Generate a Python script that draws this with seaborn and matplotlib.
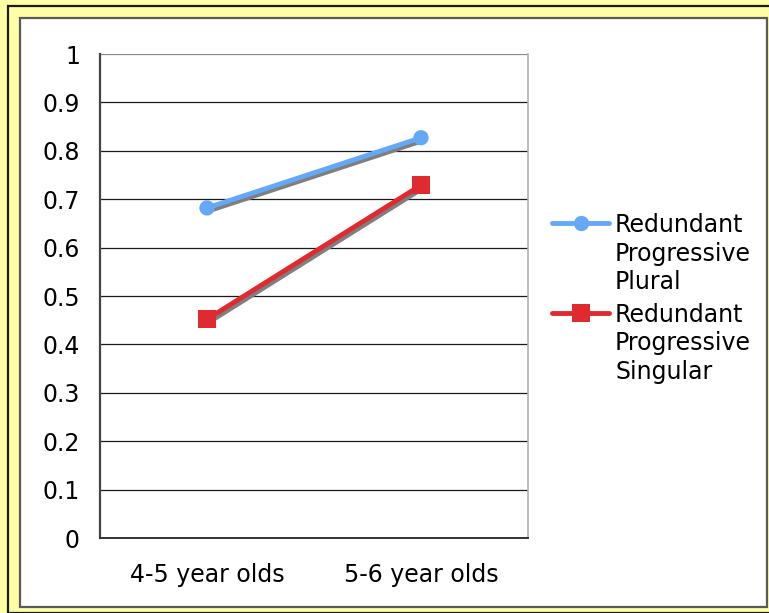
import numpy as np
import pandas as pd
import matplotlib
matplotlib.use("Agg")
import matplotlib.pyplot as plt
import matplotlib.patheffects as pe
from matplotlib.patches import Rectangle
from matplotlib.lines import Line2D
from matplotlib.legend_handler import HandlerLine2D
import seaborn as sns

# data
groups = ["4-5 year olds", "5-6 year olds"]
plural = [0.682, 0.827]
singular = [0.452, 0.729]
series_names = ["Redundant\nProgressive\nPlural", "Redundant\nProgressive\nSingular"]
yticks = [0, 0.1, 0.2, 0.3, 0.4, 0.5, 0.6, 0.7, 0.8, 0.9, 1]

sns.set_style("white")
plt.rcParams['font.family'] = ['DejaVu Sans']
plt.rcParams['font.size'] = 17
plt.rcParams['text.color'] = 'black'


# legend marker sits on the first text line, not in the middle
class FirstLineHandler(HandlerLine2D):
    def create_artists(self, legend, orig_handle, xdescent, ydescent, width, height, fontsize, trans):
        arts = super().create_artists(legend, orig_handle, xdescent, ydescent, width, height, fontsize, trans)
        for a in arts:
            a.set_ydata(np.asarray(a.get_ydata()) + 1.33 * fontsize)
            a.set_path_effects([])
        return arts


fig = plt.figure(figsize=(7.69, 6.13), dpi=100)
fig.patch.set_facecolor("#FFFFA6")

# outer frame and white chart area
fig.patches.append(Rectangle((8/769, 0), 1, 1 - 6/613, transform=fig.transFigure,
                             facecolor="#FFFFA6", edgecolor="#1a1a1a", lw=1.6, zorder=-5))
fig.patches.append(Rectangle((20/769, 6/613), (767-20)/769, (607-18)/613, transform=fig.transFigure,
                             facecolor="white", edgecolor="#5a5a5a", lw=1.6, zorder=-4))

ax = fig.add_axes([100/769, 1 - 538/613, 428/769, 484/613])
ax.set_facecolor("none")

shadow = [pe.SimpleLineShadow(offset=(1.5, -2), shadow_color="#7f7f7f", alpha=1), pe.Normal()]

sns.lineplot(x=groups, y=plural, ax=ax, color="#64A8F6", lw=3.5, marker="o",
             markersize=11, markeredgewidth=0, label=series_names[0], sort=False)
sns.lineplot(x=groups, y=singular, ax=ax, color="#DF2A30", lw=3.5, marker="s",
             markersize=13, markeredgewidth=0, label=series_names[1], sort=False)
for ln in ax.lines:
    ln.set_path_effects(shadow)

ax.set_xlim(-0.5, 1.5)
ax.set_ylim(0, 1)
ax.set_yticks(yticks)
ax.set_yticklabels([f"{v:g}" for v in yticks])
ax.yaxis.grid(True, color="#1a1a1a", lw=0.9)
ax.get_ygridlines()[-1].set_color("#8a8a8a")
ax.set_axisbelow(True)
ax.set_xlabel("")
ax.set_ylabel("")

ax.spines["top"].set_visible(False)
ax.spines["left"].set_color("#444444")
ax.spines["left"].set_linewidth(1.6)
ax.spines["bottom"].set_color("#333333")
ax.spines["bottom"].set_linewidth(1.4)
ax.spines["right"].set_color("#b0b0b0")
ax.spines["right"].set_linewidth(1.2)

ax.tick_params(axis="y", length=5.5, width=1.2, color="#444444", pad=9, labelsize=17, labelcolor="black")
ax.tick_params(axis="x", which="major", length=0, pad=18, labelsize=17, labelcolor="black")
ax.set_xticks([-0.5, 0.5, 1.5], minor=True)
ax.tick_params(axis="x", which="minor", length=6, width=1.2, color="#444444", direction="out")

leg = ax.legend(loc="upper left", bbox_to_anchor=(543/769, 1 - 204/613), bbox_transform=fig.transFigure,
                frameon=False, fontsize=17, handlelength=2.4, handletextpad=0.25,
                labelspacing=0.4, borderaxespad=0, labelcolor="black",
                handler_map={Line2D: FirstLineHandler()})
for t in leg.get_texts():
    t.set_linespacing(1.22)

fig.savefig("out.png", dpi=100, facecolor=fig.get_facecolor())
